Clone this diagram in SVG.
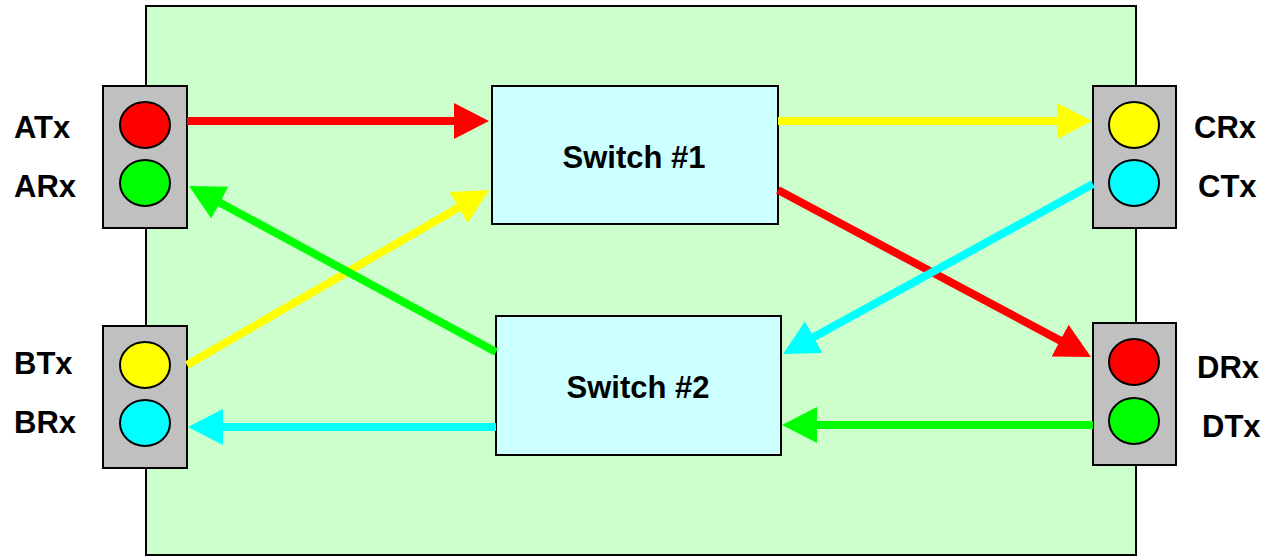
<svg xmlns="http://www.w3.org/2000/svg" width="1275" height="557" viewBox="0 0 1275 557">
<style>
.lbl{font-family:"Liberation Sans",Arial,sans-serif;font-weight:bold;font-size:31px;fill:#000}
.port{fill:#C0C0C0;stroke:#000;stroke-width:2}
.led{stroke:#000;stroke-width:2}
.sw{fill:#CCFFFF;stroke:#000;stroke-width:2}
.ln{stroke-width:8;fill:none}
</style>
<defs>
<marker id="mR" markerUnits="userSpaceOnUse" viewBox="0 0 35 36" refX="5" refY="18" markerWidth="35" markerHeight="36" orient="auto"><path d="M0,0 L35,18 L0,36 z" fill="#FF0000"/></marker>
<marker id="mY" markerUnits="userSpaceOnUse" viewBox="0 0 35 36" refX="5" refY="18" markerWidth="35" markerHeight="36" orient="auto"><path d="M0,0 L35,18 L0,36 z" fill="#FFFF00"/></marker>
<marker id="mG" markerUnits="userSpaceOnUse" viewBox="0 0 35 36" refX="5" refY="18" markerWidth="35" markerHeight="36" orient="auto"><path d="M0,0 L35,18 L0,36 z" fill="#00FF00"/></marker>
<marker id="mC" markerUnits="userSpaceOnUse" viewBox="0 0 35 36" refX="5" refY="18" markerWidth="35" markerHeight="36" orient="auto"><path d="M0,0 L35,18 L0,36 z" fill="#00FFFF"/></marker>
</defs>
<rect id="background" x="146" y="6" width="990" height="549" fill="#CCFFCC" stroke="#000" stroke-width="2"/>
<g id="portA">
<rect class="port" x="103" y="86" width="84" height="142"/>
<ellipse class="led" cx="145" cy="125" rx="25" ry="23" fill="#FF0000"/>
<ellipse class="led" cx="145" cy="183" rx="25" ry="23" fill="#00FF00"/>
<text class="lbl" x="14" y="138">ATx</text>
<text class="lbl" x="14" y="197">ARx</text>
</g>
<g id="portB">
<rect class="port" x="103" y="326" width="84" height="142"/>
<ellipse class="led" cx="145" cy="365" rx="25" ry="23" fill="#FFFF00"/>
<ellipse class="led" cx="145" cy="423" rx="25" ry="23" fill="#00FFFF"/>
<text class="lbl" x="14" y="374">BTx</text>
<text class="lbl" x="14" y="433">BRx</text>
</g>
<g id="portC">
<rect class="port" x="1093" y="86" width="83" height="142"/>
<ellipse class="led" cx="1134" cy="125" rx="25" ry="23" fill="#FFFF00"/>
<ellipse class="led" cx="1134" cy="183" rx="25" ry="23" fill="#00FFFF"/>
<text class="lbl" x="1194" y="138">CRx</text>
<text class="lbl" x="1198" y="197">CTx</text>
</g>
<g id="portD">
<rect class="port" x="1093" y="323" width="83" height="142"/>
<ellipse class="led" cx="1134" cy="362" rx="25" ry="23" fill="#FF0000"/>
<ellipse class="led" cx="1134" cy="421" rx="25" ry="23" fill="#00FF00"/>
<text class="lbl" x="1197" y="378">DRx</text>
<text class="lbl" x="1202" y="437">DTx</text>
</g>
<g id="switch1">
<rect class="sw" x="492" y="86" width="286" height="138"/>
<text class="lbl" x="634" y="168" text-anchor="middle">Switch #1</text>
</g>
<g id="switch2">
<rect class="sw" x="496" y="316" width="285" height="139"/>
<text class="lbl" x="638" y="398" text-anchor="middle">Switch #2</text>
</g>
<g id="connectors">
<line class="ln" x1="187" y1="121" x2="459" y2="121" stroke="#FF0000" marker-end="url(#mR)"/>
<line class="ln" x1="778" y1="121" x2="1062" y2="121" stroke="#FFFF00" marker-end="url(#mY)"/>
<line class="ln" x1="778" y1="190" x2="1064.5" y2="342.9" stroke="#FF0000" marker-end="url(#mR)"/>
<line class="ln" x1="1093" y1="184" x2="809.3" y2="339.6" stroke="#00FFFF" marker-end="url(#mC)"/>
<line class="ln" x1="187" y1="365" x2="463" y2="205" stroke="#FFFF00" marker-end="url(#mY)"/>
<line class="ln" x1="496" y1="352" x2="215.4" y2="200.3" stroke="#00FF00" marker-end="url(#mG)"/>
<line class="ln" x1="496" y1="427" x2="218" y2="427" stroke="#00FFFF" marker-end="url(#mC)"/>
<line class="ln" x1="1093" y1="425" x2="812" y2="425" stroke="#00FF00" marker-end="url(#mG)"/>
</g>
</svg>
